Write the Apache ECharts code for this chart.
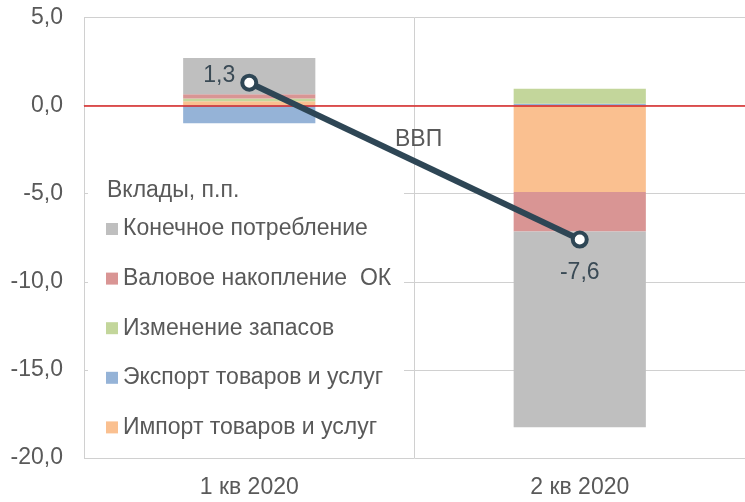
<!DOCTYPE html>
<html><head><meta charset="utf-8">
<script src="https://cdn.jsdelivr.net/npm/echarts@6/dist/echarts.min.js"></script>
<style>html,body{margin:0;padding:0;background:#fff}#c{width:745px;height:502px}</style>
</head><body><div id="c"></div>
<script>
const categories = ['1 кв 2020', '2 кв 2020'];
const importVals = [0.25, -4.9];
const exportVals = [-1.0, 0.1];
const inventoryVals = [0.15, 0.85];
const accumulationVals = [0.25, -2.25];
const consumptionVals = [2.05, -11.1];
const gdpVals = [1.3, -7.6];
const yTicks = [-20, -15, -10, -5, 0, 5];

const FONT = 'Liberation Sans';
const TXT = '#595959';
const LBL = '#3A4A55';
const FS = 23;
const fmt = v => v.toFixed(1).replace('.', ',');

const chart = echarts.init(document.getElementById('c'), null, {renderer: 'canvas'});
function bar(name, data, color) {
  return {name, type: 'bar', stack: 'total', data, barWidth: '40%',
    itemStyle: {color}, emphasis: {disabled: true}, z: 2};
}
chart.setOption({
  animation: false,
  textStyle: {fontFamily: FONT},
  grid: {left: 84, right: -6, top: 17.5, bottom: 44},
  xAxis: {
    type: 'category', data: categories,
    axisLine: {show: true, lineStyle: {color: '#D0D0D0', width: 1}},
    axisTick: {show: false},
    splitLine: {show: true, lineStyle: {color: '#D0D0D0', width: 1}},
    axisLabel: {color: TXT, fontSize: FS, fontFamily: FONT, margin: 18}
  },
  yAxis: {
    type: 'value', min: yTicks[0], max: yTicks[yTicks.length - 1], interval: 5,
    axisLine: {show: false}, axisTick: {show: false},
    splitLine: {show: true, lineStyle: {color: '#D0D0D0', width: 1}},
    axisLabel: {color: TXT, fontSize: FS, fontFamily: FONT, margin: 21, formatter: v => fmt(v)}
  },
  legend: {
    orient: 'vertical', left: 106, top: 217.5, padding: 0,
    itemWidth: 12, itemHeight: 12, itemGap: 26.6, icon: 'rect',
    textStyle: {color: TXT, fontSize: FS, fontFamily: FONT, lineHeight: 23},
    data: ['Конечное потребление', 'Валовое накопление  ОК', 'Изменение запасов',
           'Экспорт товаров и услуг', 'Импорт товаров и услуг'],
    z: 6
  },
  graphic: [
    {type: 'rect', shape: {x: 88, y: 166, width: 316, height: 288}, style: {fill: '#fff'}, z: 1, silent: true},
    {type: 'text', left: 107, top: 179, z: 6,
      style: {text: 'Вклады, п.п.', fill: TXT, font: FS + 'px "Liberation Sans"'}},
    {type: 'text', left: 395, top: 128, z: 6,
      style: {text: 'ВВП', fill: TXT, font: FS + 'px "Liberation Sans"'}}
  ],
  series: [
    bar('Импорт товаров и услуг', importVals, '#FAC090'),
    bar('Экспорт товаров и услуг', exportVals, '#95B3D7'),
    bar('Изменение запасов', inventoryVals, '#C3D69B'),
    bar('Валовое накопление  ОК', accumulationVals, '#D99594'),
    Object.assign(bar('Конечное потребление', consumptionVals, '#BFBFBF'), {
      markLine: {silent: true, symbol: 'none', label: {show: false}, z: 5,
        lineStyle: {color: '#D92323', width: 1.5, type: 'solid'},
        data: [{yAxis: 0}]}
    }),
    {name: 'ВВП', type: 'line', z: 10,
      data: [
        {value: gdpVals[0], label: {position: 'left', distance: 5, offset: [0, -7]}},
        {value: gdpVals[1], label: {position: 'bottom', distance: 13}}
      ],
      symbol: 'circle', symbolSize: 14,
      lineStyle: {color: '#2E4655', width: 6},
      itemStyle: {color: '#fff', borderColor: '#2E4655', borderWidth: 4},
      emphasis: {disabled: true},
      label: {show: true, color: LBL, fontSize: FS, fontFamily: FONT,
        formatter: p => fmt(p.value)}
    }
  ]
});
</script></body></html>
